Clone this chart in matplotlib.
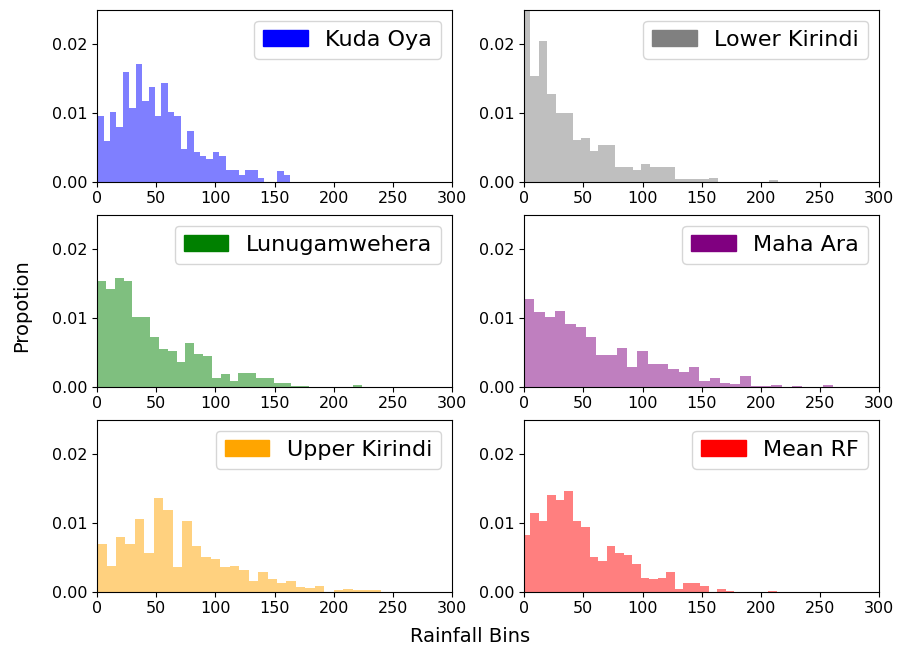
import numpy as np
import matplotlib
matplotlib.use('Agg')
import matplotlib.pyplot as plt
import matplotlib.patches as mpatches

# станции и цвета
stations = ['Kuda Oya', 'Lower Kirindi', 'Lunugamwehera', 'Maha Ara', 'Upper Kirindi', 'Mean RF']
colors = ['blue', 'grey', 'green', 'purple', 'orange', 'red']

# диапазон гистограммы (мин, макс) для каждой станции, 30 бинов
ranges = [(0, 163), (-2.2, 214.2), (0, 224), (0, 261), (0, 240), (-2.1, 213.3)]

# доли по бинам
kuda_oya = [0.0095, 0.0059, 0.0102, 0.0080, 0.0159, 0.0107, 0.0171, 0.0118, 0.0138, 0.0095,
            0.0143, 0.0102, 0.0095, 0.0047, 0.0074, 0.0043, 0.0038, 0.0033, 0.0043, 0.0038,
            0.0017, 0.0017, 0.0010, 0.0017, 0.0017, 0.0005, 0, 0, 0.0015, 0.0010]
lower_kirindi = [0.028, 0.0153, 0.0205, 0.0127, 0.0100, 0.0100, 0.0060, 0.0063, 0.0045, 0.0054,
                 0.0054, 0.0022, 0.0022, 0.0017, 0.0026, 0.0022, 0.0022, 0.0022, 0.0004, 0.0004,
                 0.0004, 0.0004, 0.0006, 0, 0, 0, 0, 0, 0, 0.0003]
lunugamwehera = [0.0154, 0.0142, 0.0158, 0.0154, 0.0101, 0.0102, 0.0073, 0.0055, 0.0052, 0.0036,
                 0.0063, 0.0047, 0.0045, 0.0013, 0.0018, 0.0009, 0.0020, 0.0020, 0.0013, 0.0013,
                 0.0006, 0.0006, 0.00015, 0.00015, 0, 0, 0, 0, 0, 0.0003]
maha_ara = [0.0127, 0.0108, 0.0101, 0.0110, 0.0091, 0.0087, 0.0073, 0.0046, 0.0046, 0.0057,
            0.0029, 0.0052, 0.0033, 0.0033, 0.0026, 0.0022, 0.0029, 0.0008, 0.0013, 0.0006,
            0.0004, 0.0015, 0.0001, 0.0001, 0.0003, 0, 0.0001, 0, 0, 0.0002]
upper_kirindi = [0.0069, 0.0038, 0.0080, 0.0069, 0.0106, 0.0057, 0.0136, 0.0119, 0.0036, 0.0103,
                 0.0067, 0.0050, 0.0048, 0.0036, 0.0038, 0.0031, 0.0015, 0.0029, 0.0019, 0.0013,
                 0.0015, 0.0007, 0.0006, 0.0009, 0, 0.0002, 0.0004, 0.0002, 0.0002, 0.0002]
mean_rf = [0.0082, 0.0115, 0.0103, 0.0140, 0.0133, 0.0147, 0.0103, 0.0094, 0.0050, 0.0045,
           0.0067, 0.0057, 0.0054, 0.0041, 0.0020, 0.0018, 0.0020, 0.0029, 0.0004, 0.0013,
           0.0013, 0.0008, 0, 0.0004, 0.00015, 0, 0, 0, 0, 0.00015]

heights = [kuda_oya, lower_kirindi, lunugamwehera, maha_ara, upper_kirindi, mean_rf]

fig, axes = plt.subplots(3, 2, figsize=(8.99, 6.51), dpi=100)
plt.subplots_adjust(left=0.108, right=0.978, bottom=0.091, top=0.985, wspace=0.203, hspace=0.192)

for ax, name, c, (lo, hi), h in zip(axes.flat, stations, colors, ranges, heights):
    edges = np.linspace(lo, hi, len(h) + 1)
    centers = (edges[:-1] + edges[1:]) / 2
    ax.hist(centers, bins=edges, weights=h, color=c, alpha=0.5, histtype='stepfilled')
    ax.set_xlim(0, 300)
    ax.set_ylim(0, 0.025)
    ax.set_xticks(range(0, 301, 50))
    ax.set_yticks([0.0, 0.01, 0.02])
    ax.tick_params(labelsize=11.5)
    ax.legend(handles=[mpatches.Patch(color=c, label=name)], loc='upper right', fontsize=16)

fig.text(0.523, 0.023, 'Rainfall Bins', ha='center', va='center', fontsize=14)
fig.text(0.024, 0.53, 'Propotion', ha='center', va='center', rotation=90, fontsize=14)

plt.savefig('out.png')
